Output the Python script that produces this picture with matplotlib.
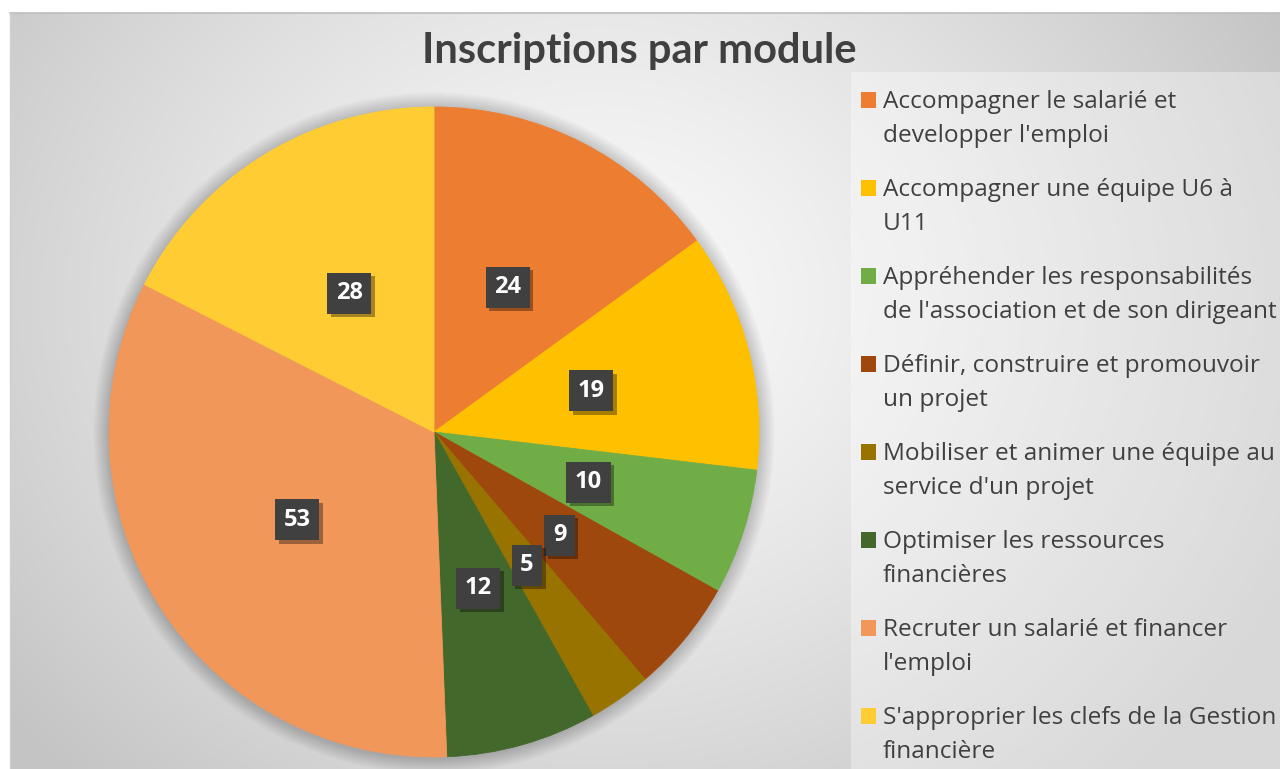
import numpy as np
import matplotlib
matplotlib.use("Agg")
import matplotlib.pyplot as plt
import matplotlib.patheffects as pe
from matplotlib.patches import Rectangle, Circle

W, H = 1280, 769

modules = [
    ("Accompagner le salarié et", "developper l'emploi"),
    ("Accompagner une équipe U6 à", "U11"),
    ("Appréhender les responsabilités", "de l'association et de son dirigeant"),
    ("Définir, construire et promouvoir", "un projet"),
    ("Mobiliser et animer une équipe au", "service d'un projet"),
    ("Optimiser les ressources", "financières"),
    ("Recruter un salarié et financer", "l'emploi"),
    ("S'approprier les clefs de la Gestion", "financière"),
]
inscriptions = [24, 19, 10, 9, 5, 12, 53, 28]
colors = ["#ED7D31", "#FFC000", "#70AD47", "#9E480E",
          "#997300", "#43682B", "#F1975A", "#FFCD33"]

title = "Inscriptions par module"
text_color = "#404040"


def Y(y):
    # ligne pixel (depuis le haut) -> y des donnees (depuis le bas)
    return H - y


fig = plt.figure(figsize=(W / 100, H / 100), dpi=100)
fig.patch.set_facecolor("white")
ax = fig.add_axes([0, 0, 1, 1])

# fond du graphique : degrade radial gris
x0, y0 = 10, 13
xx, yy = np.meshgrid(np.arange(x0, W), np.arange(y0, H))
d = np.hypot(xx - 600, (yy - 300) * 1.15) / 760
t = np.clip(d, 0, 1) ** 1.3
light = np.array([0.98, 0.98, 0.98])
dark = np.array([0.77, 0.77, 0.77])
img = light[None, None, :] * (1 - t[..., None]) + dark[None, None, :] * t[..., None]
ax.imshow(img, extent=[x0, W, Y(H), Y(y0)], origin="upper", zorder=0)
ax.plot([x0, W], [Y(y0), Y(y0)], color="#bdbdbd", lw=1.2, zorder=1)
ax.plot([x0, x0], [Y(y0), 0], color="#d0d0d0", lw=1.0, zorder=1)

# boite de legende
ax.add_patch(Rectangle((851, 0), W - 851, Y(72), facecolor="white",
                       alpha=0.35, edgecolor="none", zorder=1))

# camembert
cx, cy, r = 434, 432, 325
for k in range(16):
    ax.add_patch(Circle((cx, Y(cy) - 1), r + 16 - k, facecolor="black",
                        alpha=0.01, edgecolor="none", zorder=2))

total = sum(inscriptions)
wedges, texts, autotexts = ax.pie(
    inscriptions, colors=colors, startangle=90, counterclock=False,
    center=(cx, Y(cy)), radius=r, frame=True,
    autopct=lambda p: f"{round(p * total / 100)}", pctdistance=0.5,
    wedgeprops=dict(linewidth=0.6),
    textprops=dict(color="white", fontsize=17, fontweight="bold",
                   family="Open Sans"),
)
for w in wedges:
    w.set_edgecolor(w.get_facecolor())
    w.set_zorder(3)
for at in autotexts:
    at.set_zorder(6)
    at.set_bbox(dict(boxstyle="square,pad=0.36", facecolor="#404040",
                     edgecolor="none"))
    at.get_bbox_patch().set_path_effects(
        [pe.SimplePatchShadow(offset=(2.5, -2.5), shadow_rgbFace="black",
                              alpha=0.35), pe.Normal()])

ax.set_xlim(0, W)
ax.set_ylim(0, H)
ax.set_aspect("equal")
ax.axis("off")

# titre
ax.text(639, Y(63), title, ha="center", va="baseline", fontsize=30,
        fontweight="bold", family="Lato", color=text_color, zorder=6)

# legende
for i, (line1, line2) in enumerate(modules):
    base = 108 + 88 * i
    ax.add_patch(Rectangle((861, Y(base)), 15, 16, facecolor=colors[i],
                           edgecolor="none", zorder=6))
    ax.text(883, Y(base), line1, ha="left", va="baseline", fontsize=17.6,
            family="Open Sans", color=text_color, zorder=6)
    ax.text(883, Y(base + 34), line2, ha="left", va="baseline", fontsize=17.6,
            family="Open Sans", color=text_color, zorder=6)

fig.savefig("out.png", dpi=100)
